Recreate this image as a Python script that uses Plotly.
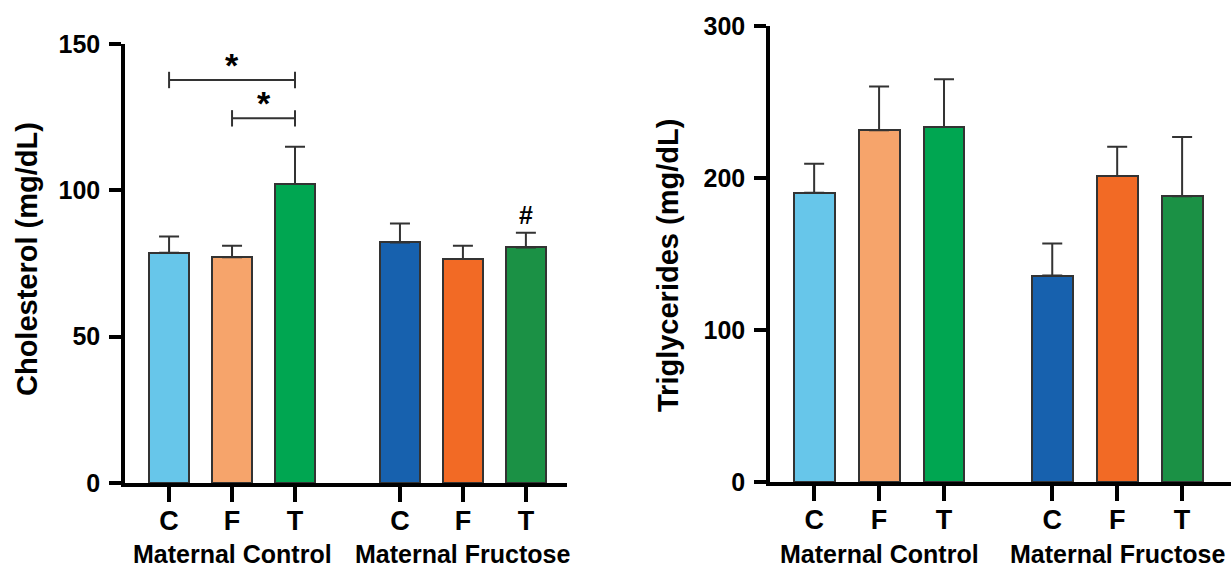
import plotly.graph_objects as go

# ---- data ----
groups = ["Maternal Control", "Maternal Fructose"]
treatments = ["C", "F", "T"]
chol_mean = [78.7, 77.1, 102.2, 82.2, 76.5, 80.5]
chol_err = [5.5, 4.0, 12.7, 6.5, 4.6, 5.0]
trig_mean = [190.3, 231.4, 233.5, 135.8, 201.3, 188.0]
trig_err = [19.1, 28.8, 31.5, 21.1, 19.3, 39.0]
colors = ["#67C6EA", "#F6A46B", "#00A651", "#1761AE", "#F26A25", "#1B9145"]
chol_sig_pairs = [(0, 2), (1, 2)]
chol_sig_levels = [137.7, 124.6]
chol_sig_text = ["*", "*"]
chol_mark_index = [5]
chol_mark_text = ["#"]

# ---- layout helpers ----
GAP = 0.667
xpos = [g * (len(treatments) + GAP) + t for g in range(len(groups)) for t in range(len(treatments))]
ticktext = [t for g in groups for t in treatments]
W, H = 1231, 569
FONT = "Liberation Sans, Arial, Helvetica, sans-serif"
DARK = "#333333"

fig = go.Figure()

for means, errs, xa, ya in [(chol_mean, chol_err, "x", "y"), (trig_mean, trig_err, "x2", "y2")]:
    fig.add_trace(go.Bar(
        x=xpos, y=means, width=0.63, xaxis=xa, yaxis=ya,
        marker=dict(color=colors, line=dict(color=DARK, width=2)),
        error_y=dict(type="data", symmetric=False, array=errs,
                     arrayminus=[0] * len(errs), color=DARK, thickness=2, width=10),
        showlegend=False, hoverinfo="skip",
    ))

line_common = dict(showline=True, linecolor="black", linewidth=3.5, ticks="outside",
                   tickcolor="black", tickwidth=3.5, showgrid=False, zeroline=False,
                   automargin=False)
yfont = dict(family=FONT, size=25, color="black", weight="bold")
xfont = dict(family=FONT, size=27, color="black", weight="bold")

fig.update_layout(
    width=W, height=H, margin=dict(l=0, r=0, t=0, b=0, autoexpand=False),
    paper_bgcolor="white", plot_bgcolor="white", bargap=0,
    xaxis=dict(domain=[125 / W, 567 / W], range=[-0.70, 6.32], anchor="y",
               tickvals=xpos, ticktext=ticktext, ticklen=15, tickfont=xfont,
               ticklabelstandoff=-4, **line_common),
    yaxis=dict(domain=[86 / H, 525 / H], range=[0, 150], anchor="x",
               tickvals=[0, 50, 100, 150], ticklen=12, ticklabelstandoff=4,
               tickfont=yfont, **line_common),
    xaxis2=dict(domain=[770 / W, 1.0], range=[-0.68, 6.42], anchor="y2",
                tickvals=xpos, ticktext=ticktext, ticklen=15, tickfont=xfont,
                ticklabelstandoff=-4, **line_common),
    yaxis2=dict(domain=[87 / H, 543 / H], range=[0, 300], anchor="x2",
                tickvals=[0, 100, 200, 300], ticklen=12, ticklabelstandoff=4,
                tickfont=yfont, **line_common),
)

ann = []
shapes = []
# group labels
for xa in ["x", "x2"]:
    for gi, g in enumerate(groups):
        cx = (xpos[gi * 3] + xpos[gi * 3 + 2]) / 2
        ann.append(dict(text=g, x=cx, xref=xa, y=(H - 554) / H, yref="paper",
                        showarrow=False, xanchor="center", yanchor="middle",
                        font=dict(family=FONT, size=25, color="black", weight="bold")))
# y titles
ann.append(dict(text="Cholesterol (mg/dL)", x=27 / W, y=(H - 259) / H, xref="paper", yref="paper",
                textangle=-90, showarrow=False, xanchor="center", yanchor="middle",
                font=dict(family=FONT, size=29, color="black", weight="bold")))
ann.append(dict(text="Triglycerides (mg/dL)", x=668 / W, y=(H - 266) / H, xref="paper", yref="paper",
                textangle=-90, showarrow=False, xanchor="center", yanchor="middle",
                font=dict(family=FONT, size=29, color="black", weight="bold")))
# significance brackets
for (a, b), lvl, txt in zip(chol_sig_pairs, chol_sig_levels, chol_sig_text):
    x0, x1 = xpos[a], xpos[b]
    shapes.append(dict(type="line", xref="x", yref="y", x0=x0, x1=x1, y0=lvl, y1=lvl,
                       line=dict(color=DARK, width=2)))
    for xx in (x0, x1):
        shapes.append(dict(type="line", xref="x", yref="y", x0=xx, x1=xx, y0=lvl - 2.8, y1=lvl + 2.8,
                           line=dict(color=DARK, width=2)))
    ann.append(dict(text=txt, x=(x0 + x1) / 2, y=lvl, xref="x", yref="y", showarrow=False,
                    xanchor="center", yanchor="bottom", yshift=-6,
                    font=dict(family=FONT, size=34, color="black", weight="bold")))
for idx, txt in zip(chol_mark_index, chol_mark_text):
    ann.append(dict(text=txt, x=xpos[idx], y=chol_mean[idx] + chol_err[idx], xref="x", yref="y",
                    showarrow=False, xanchor="center", yanchor="bottom", yshift=2,
                    font=dict(family=FONT, size=25, color="black", weight="bold")))

fig.update_layout(annotations=ann, shapes=shapes)

fig.write_html("out.html", config={"displayModeBar": False},
               post_script="document.body.style.margin='0';")
